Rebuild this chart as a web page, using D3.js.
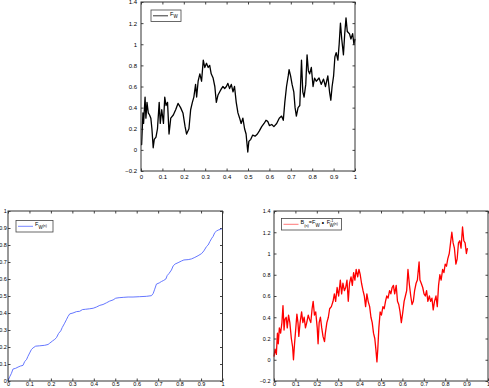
<!DOCTYPE html>
<meta charset="utf-8">
<title>F_W and time change</title>
<style>
  body { margin: 0; background: #fff; }
  svg { display: block; }
  .tick text { font: 6px "Liberation Sans", Arial, sans-serif; fill: #000; }
  .small .tick text { font-size: 5.5px; }
  .frame { fill: none; stroke: #333; stroke-width: 1; }
  .legend rect { fill: #fff; stroke: #444; stroke-width: 0.8; }
  .legend text { font: 5.5px "Liberation Sans", Arial, sans-serif; fill: #000; }
</style>
<body>
<script src="https://d3js.org/d3.v7.min.js"></script>
<script>
// F_W (black, top panel)
var fwT = [0,0.003,0.009,0.012,0.019,0.023,0.028,0.034,0.040,0.046,0.051,0.057,0.062,0.070,0.077,0.085,0.090,0.097,0.105,0.111,
  0.117,0.124,0.131,0.139,0.151,0.162,0.173,0.185,0.196,0.206,0.213,0.224,0.232,0.240,0.247,0.255,0.260,0.267,0.275,0.283,
  0.291,0.298,0.306,0.314,0.321,0.328,0.337,0.345,0.352,0.360,0.368,0.376,0.383,0.391,0.399,0.406,0.414,0.422,0.430,0.437,
  0.445,0.453,0.461,0.468,0.476,0.484,0.491,0.499,0.504,0.513,0.522,0.533,0.544,0.553,0.564,0.575,0.584,0.592,0.600,0.611,
  0.621,0.634,0.646,0.657,0.665,0.672,0.680,0.688,0.692,0.699,0.706,0.714,0.720,0.726,0.734,0.742,0.750,0.756,0.762,0.770,
  0.776,0.782,0.788,0.796,0.804,0.811,0.819,0.832,0.842,0.853,0.862,0.873,0.881,0.887,0.893,0.900,0.906,0.912,0.920,0.926,
  0.932,0.938,0.946,0.952,0.958,0.964,0.974,0.981,0.989,0.995,1.000];
var fwV = [0.05,0.05,0.35,0.25,0.50,0.30,0.45,0.35,0.33,0.30,0.20,0.02,0.10,0.12,0.20,0.45,0.25,0.38,0.25,0.50,
  0.42,0.45,0.15,0.30,0.33,0.38,0.44,0.40,0.35,0.22,0.15,0.20,0.38,0.45,0.50,0.62,0.50,0.65,0.72,0.65,
  0.85,0.78,0.82,0.78,0.80,0.72,0.68,0.60,0.45,0.52,0.55,0.58,0.60,0.58,0.60,0.63,0.58,0.62,0.55,0.60,
  0.45,0.35,0.30,0.25,0.30,0.20,0.15,-0.02,0.08,0.10,0.14,0.13,0.15,0.18,0.22,0.25,0.28,0.27,0.23,0.24,
  0.22,0.25,0.30,0.32,0.28,0.45,0.60,0.70,0.76,0.70,0.62,0.55,0.40,0.32,0.40,0.42,0.85,0.55,0.50,0.62,
  0.90,0.75,0.72,0.78,0.60,0.68,0.65,0.68,0.62,0.67,0.60,0.70,0.55,0.47,0.60,0.70,0.88,0.92,0.85,1.00,
  1.20,1.05,0.90,1.10,1.25,1.12,1.10,1.05,1.10,1.00,1.05];

// F_W(n) (blue, bottom left)
var fnT = [0,0.008,0.016,0.023,0.036,0.047,0.058,0.070,0.078,0.086,0.093,0.101,0.109,0.117,0.129,0.148,0.171,0.187,0.194,0.207,
  0.218,0.226,0.236,0.246,0.253,0.264,0.272,0.280,0.288,0.303,0.319,0.334,0.347,0.362,0.381,0.397,0.412,0.428,0.443,0.459,
  0.474,0.490,0.502,0.518,0.537,0.560,0.583,0.614,0.645,0.669,0.677,0.684,0.692,0.705,0.715,0.726,0.736,0.742,0.751,0.762,
  0.770,0.779,0.793,0.809,0.820,0.840,0.855,0.871,0.886,0.902,0.913,0.925,0.933,0.941,0.950,0.956,0.964,0.972,0.980,0.991,1.000];
var fnV = [0,0.025,0.045,0.07,0.075,0.082,0.088,0.092,0.115,0.125,0.145,0.165,0.185,0.195,0.205,0.207,0.21,0.215,0.222,0.235,
  0.245,0.255,0.28,0.295,0.315,0.34,0.36,0.38,0.395,0.40,0.408,0.41,0.42,0.422,0.425,0.428,0.435,0.445,0.45,0.46,
  0.47,0.477,0.487,0.49,0.492,0.494,0.494,0.496,0.498,0.502,0.515,0.54,0.57,0.577,0.585,0.592,0.60,0.62,0.633,0.653,
  0.677,0.688,0.696,0.706,0.712,0.714,0.718,0.727,0.737,0.749,0.765,0.79,0.80,0.82,0.84,0.85,0.873,0.882,0.888,0.892,0.898];

// composed path (red, bottom right)
var bT = [0.000,0.005,0.011,0.016,0.020,0.025,0.031,0.037,0.042,0.047,0.051,0.057,0.062,0.068,0.074,0.081,0.087,0.091,0.096,0.102,
  0.107,0.112,0.116,0.122,0.129,0.135,0.141,0.147,0.153,0.160,0.166,0.172,0.178,0.183,0.189,0.195,0.202,0.206,0.211,0.217,
  0.223,0.229,0.236,0.240,0.247,0.254,0.260,0.268,0.276,0.282,0.288,0.295,0.302,0.310,0.316,0.322,0.329,0.335,0.341,0.347,
  0.353,0.360,0.366,0.372,0.378,0.384,0.391,0.397,0.403,0.409,0.416,0.422,0.428,0.434,0.440,0.447,0.453,0.459,0.465,0.471,
  0.476,0.481,0.485,0.490,0.496,0.502,0.509,0.515,0.521,0.527,0.533,0.540,0.546,0.552,0.558,0.564,0.571,0.577,0.583,0.589,
  0.595,0.602,0.608,0.614,0.620,0.626,0.633,0.639,0.645,0.651,0.657,0.664,0.670,0.678,0.682,0.688,0.695,0.701,0.707,0.713,
  0.719,0.726,0.732,0.738,0.744,0.750,0.757,0.763,0.769,0.775,0.781,0.788,0.794,0.800,0.806,0.812,0.819,0.825,0.831,0.837,
  0.843,0.850,0.856,0.862,0.868,0.874,0.881,0.887,0.893,0.899,0.904];
var bV = [0.03,0.10,0.05,0.25,0.15,0.30,0.25,0.35,0.51,0.28,0.38,0.40,0.30,0.42,0.35,0.20,0.12,0.00,0.15,0.30,
  0.43,0.35,0.22,0.35,0.45,0.35,0.40,0.30,0.35,0.42,0.38,0.35,0.48,0.55,0.42,0.45,0.30,0.15,0.35,0.40,
  0.30,0.22,0.17,0.25,0.35,0.40,0.48,0.50,0.55,0.62,0.55,0.68,0.60,0.75,0.62,0.72,0.65,0.68,0.75,0.55,
  0.72,0.78,0.70,0.82,0.75,0.85,0.78,0.85,0.80,0.72,0.65,0.60,0.50,0.62,0.55,0.50,0.40,0.35,0.25,0.20,
  0.10,-0.02,0.10,0.30,0.45,0.42,0.50,0.48,0.55,0.60,0.58,0.65,0.62,0.68,0.70,0.62,0.70,0.55,0.52,0.45,
  0.35,0.45,0.55,0.60,0.65,0.85,0.70,0.60,0.52,0.55,0.65,0.72,0.75,0.92,0.75,0.72,0.68,0.62,0.60,0.65,
  0.55,0.60,0.55,0.58,0.47,0.55,0.60,0.50,0.70,0.80,0.75,0.85,0.82,0.90,0.88,0.95,1.00,1.10,1.20,1.10,
  1.05,0.90,0.95,1.10,1.12,1.05,1.25,1.12,1.10,1.00,1.05];

var xTicks = d3.range(0, 11).map(function(i) { return i / 10; });
var yTicksA = [-0.2, 0, 0.2, 0.4, 0.6, 0.8, 1, 1.2, 1.4];
var yTicksB = d3.range(0, 11).map(function(i) { return i / 10; });

var svg = d3.select("body").append("svg")
    .attr("width", 489)
    .attr("height", 388);

var fmt = function(d) { return d3.format("~g")(+d.toFixed(2)); };

function panel(box, yDom, yTicks, xs, ys, color, width) {
  var g = svg.append("g")
      .attr("class", box.small ? "small" : null)
      .attr("transform", "translate(" + box.left + "," + box.top + ")");
  var x = d3.scaleLinear().domain([0, 1]).range([0, box.w]);
  var y = d3.scaleLinear().domain(yDom).range([box.h, 0]);

  g.append("g").attr("transform", "translate(0," + box.h + ")")
    .call(d3.axisBottom(x).tickValues(xTicks).tickSize(-2.5).tickPadding(box.padX).tickFormat(fmt));
  g.append("g")
    .call(d3.axisLeft(y).tickValues(yTicks).tickSize(-2.5).tickPadding(box.padY).tickFormat(fmt));
  g.append("g")
    .call(d3.axisTop(x).tickValues(xTicks).tickSize(-2.5).tickFormat(""));
  g.append("g").attr("transform", "translate(" + box.w + ",0)")
    .call(d3.axisRight(y).tickValues(yTicks).tickSize(-2.5).tickFormat(""));
  g.selectAll(".domain").remove();
  g.selectAll(".tick line").attr("stroke", "#444");

  var pts = xs.map(function(t, i) { return [t, ys[i]]; });
  g.append("path")
    .datum(pts)
    .attr("fill", "none")
    .attr("stroke", color)
    .attr("stroke-width", width)
    .attr("stroke-linejoin", "round")
    .attr("d", d3.line().x(function(d) { return x(d[0]); }).y(function(d) { return y(d[1]); }));

  g.append("rect").attr("class", "frame")
    .attr("width", box.w).attr("height", box.h);
  return g;
}

function legend(g, lx, ly, lw, color, build) {
  var lg = g.append("g").attr("class", "legend").attr("transform", "translate(" + lx + "," + ly + ")");
  lg.append("rect").attr("width", lw).attr("height", 11.5);
  lg.append("line").attr("x1", 2).attr("x2", 17).attr("y1", 5.8).attr("y2", 5.8)
    .attr("stroke", color).attr("stroke-width", 0.8);
  var t = lg.append("text").attr("x", 19).attr("y", 5.8);
  build(t);
}

var gTop = panel({left: 141, top: 2, w: 214, h: 169, padX: 4, padY: 4}, [-0.2, 1.4], yTicksA, fwT, fwV, "#000", 1.3);
legend(gTop, 10, 8, 30, "#000", function(t) {
  t.append("tspan").text("F");
  t.append("tspan").attr("dy", 2.5).attr("font-size", "4.5px").text("W");
});

var gLeft = panel({left: 8, top: 211, w: 214.5, h: 170, padX: 1, padY: 1.2, small: true}, [0, 1], yTicksB, fnT, fnV, "#5468ff", 0.9);
legend(gLeft, 8, 9.5, 37, "#5468ff", function(t) {
  t.append("tspan").text("F");
  t.append("tspan").attr("dy", 2.2).attr("font-size", "4.5px").text("W");
  t.append("tspan").attr("dy", -1.8).attr("font-size", "3.5px").text("(n)");
});

var gRight = panel({left: 274, top: 211, w: 214, h: 170, padX: 1, padY: 3.5, small: true}, [-0.2, 1.4], yTicksA, bT, bV, "#ff0000", 1.3);
legend(gRight, 7.5, 7.5, 60, "#ff5555", function(t) {
  t.append("tspan").text("B");
  t.append("tspan").attr("dy", 2.2).attr("font-size", "3.8px").text("(n)");
  t.append("tspan").attr("dy", -2.2).text("=F");
  t.append("tspan").attr("dy", 2.2).attr("font-size", "4.5px").text("W");
  t.append("tspan").attr("dy", -2.2).text(" \u2218 F");
  t.append("tspan").attr("dy", -2.5).attr("font-size", "3.8px").text("-1");
  t.append("tspan").attr("dx", -4).attr("dy", 4.7).attr("font-size", "4.5px").text("W");
  t.append("tspan").attr("dy", -1.8).attr("font-size", "3.5px").text("(n)");
});
</script>
</body>
